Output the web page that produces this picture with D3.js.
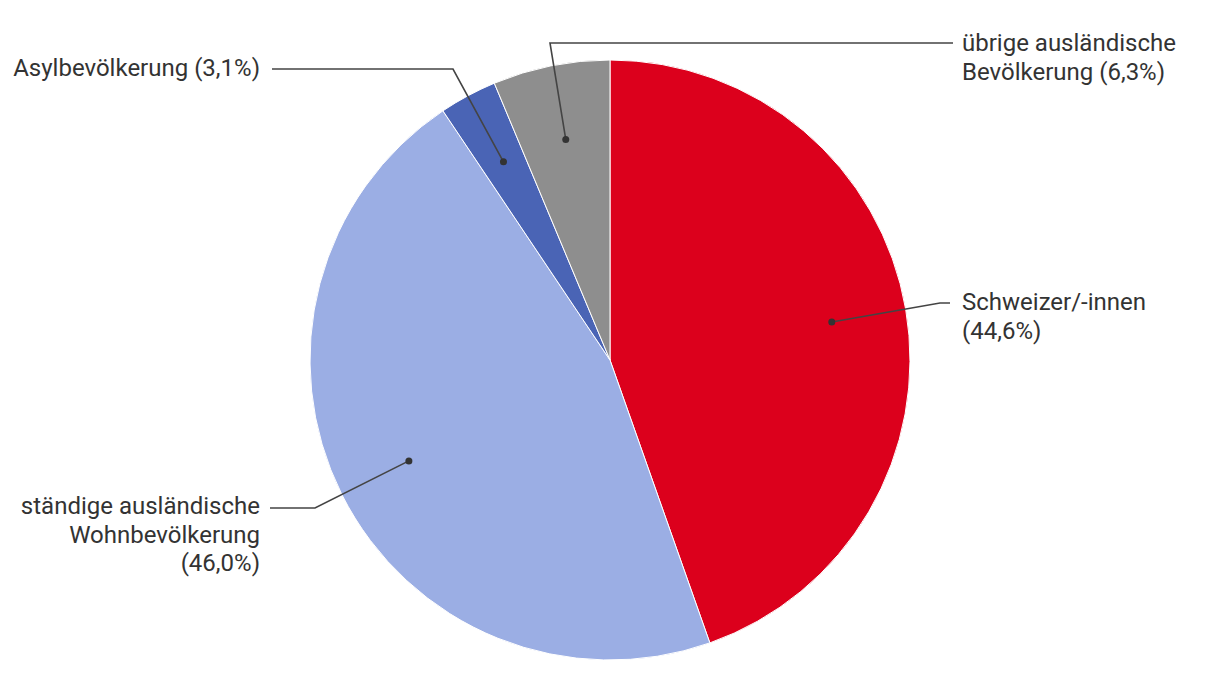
<!DOCTYPE html>
<html>
<head>
<meta charset="utf-8">
<script src="https://cdn.jsdelivr.net/npm/d3@7"></script>
<style>
  body { margin: 0; background: #fff; }
  svg text { font-family: Roboto, "Noto Sans", sans-serif; font-size: 24px; fill: #333; }
</style>
</head>
<body>
<svg id="chart" width="1220" height="700"></svg>
<script>
// ---- data ----
const categories = ["Schweizer/-innen", "ständige ausländische Wohnbevölkerung", "Asylbevölkerung", "übrige ausländische Bevölkerung"];
const values = [44.6, 46.0, 3.1, 6.3];
const colors = ["#dc001c", "#9baee4", "#4a64b5", "#8e8e8e"];
const labelLines = [
  ["Schweizer/-innen", "(44,6%)"],
  ["ständige ausländische", "Wohnbevölkerung", "(46,0%)"],
  ["Asylbevölkerung (3,1%)"],
  ["übrige ausländische", "Bevölkerung (6,3%)"]
];

// ---- layout (not data) ----
const cx = 610, cy = 360, R = 300;
const labelLayout = [
  { elbow: [940, 303], end: [950, 303], tx: 962, ty: 304, anchor: "start" },
  { elbow: [315, 508], end: [270, 508], tx: 260, ty: 508, anchor: "end" },
  { elbow: [453, 69], end: [272, 69], tx: 260, ty: 70, anchor: "end" },
  { elbow: [550, 43], end: [953, 43], tx: 962, ty: 45, anchor: "start" }
];

const svg = d3.select("#chart");
const g = svg.append("g").attr("transform", `translate(${cx},${cy})`);

const data = categories.map((c, i) => ({ name: c, value: values[i], color: colors[i], i }));
const pie = d3.pie().value(d => d.value).sort(null);
const arcs = pie(data);
const arc = d3.arc().innerRadius(0).outerRadius(R);
const dotArc = d3.arc().innerRadius(R * 0.75).outerRadius(R * 0.75);

g.selectAll("path.slice").data(arcs).join("path")
  .attr("class", "slice")
  .attr("d", arc)
  .attr("fill", d => d.data.color)
  .attr("stroke", "#fff")
  .attr("stroke-width", 1);

// leader lines
arcs.forEach((a, i) => {
  const [dx, dy] = dotArc.centroid(a);
  const L = labelLayout[i];
  const pts = [[cx + dx, cy + dy], L.elbow, L.end];
  svg.append("path")
    .attr("d", d3.line()(pts))
    .attr("fill", "none")
    .attr("stroke", "#444")
    .attr("stroke-width", 1.6);
  svg.append("circle")
    .attr("cx", cx + dx).attr("cy", cy + dy).attr("r", 3.5)
    .attr("fill", "#333");
  const t = svg.append("text")
    .attr("text-anchor", L.anchor)
    .attr("x", L.tx).attr("y", L.ty)
    .attr("dominant-baseline", "middle");
  labelLines[i].forEach((line, k) => {
    t.append("tspan").attr("x", L.tx).attr("dy", k === 0 ? 0 : 28.5).text(line);
  });
});
</script>
</body>
</html>
